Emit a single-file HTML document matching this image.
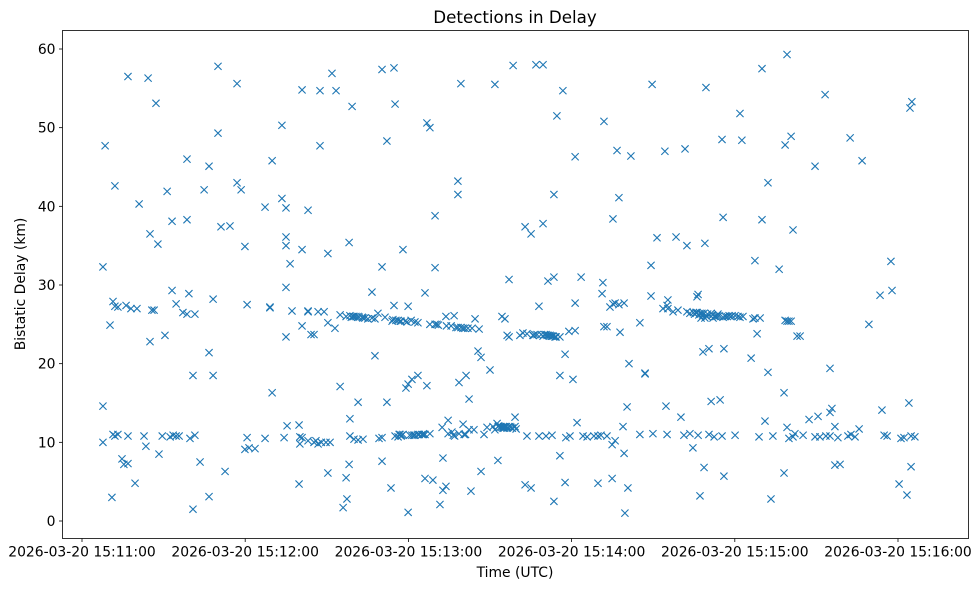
<!DOCTYPE html>
<html><head><meta charset="utf-8"><style>
html,body{margin:0;padding:0;background:#fff;}
svg{display:block;font-family:"DejaVu Sans","Liberation Sans",sans-serif;}
</style></head><body>
<svg id="chart" width="979" height="590" viewBox="0 0 979 590" xmlns="http://www.w3.org/2000/svg">
<rect x="0" y="0" width="979" height="590" fill="#fff"/>
<g id="marks"></g>
<rect x="62.5" y="30.5" width="906" height="508" fill="none" stroke="#000" stroke-width="0.8"/>
<g id="xticks"></g>
<g id="yticks"></g>
<text x="515" y="23" text-anchor="middle" font-size="16.7">Detections in Delay</text>
<text x="515" y="577" text-anchor="middle" font-size="13.9">Time (UTC)</text>
<text transform="translate(25,284) rotate(-90)" text-anchor="middle" font-size="13.9">Bistatic Delay (km)</text>
</svg>
<script>
// seconds after 2026-03-20 15:11:00 UTC
const times = [7.7,7.7,7.7,8.5,10.3,11.0,11.4,11.4,12.1,12.1,12.1,13.2,13.2,14.7,15.4,16.2,16.9,16.9,16.9,18.0,19.5,20.2,21.0,22.8,23.5,24.3,25.0,25.0,25.7,26.5,27.2,27.9,28.3,30.5,31.3,32.4,33.1,33.1,33.5,34.6,34.6,35.7,37.1,38.6,38.6,38.6,39.3,39.7,40.8,40.8,41.5,41.5,43.4,44.9,46.7,46.7,46.7,48.2,48.2,50.0,50.0,51.1,52.6,54.4,57.0,57.0,58.5,59.9,59.9,60.7,60.7,61.4,63.6,67.3,67.3,69.1,69.1,69.9,69.9,73.5,73.5,74.3,75.0,75.0,75.0,75.0,75.0,75.4,76.5,77.2,79.8,79.8,80.1,80.1,80.9,80.9,80.9,80.9,83.1,83.1,83.1,83.1,84.2,85.3,85.3,86.8,86.8,87.5,87.5,89.0,89.7,90.4,90.4,90.4,91.2,91.9,93.0,93.4,94.9,94.9,96.0,97.1,97.1,97.4,98.2,98.2,98.5,98.5,98.5,99.3,100.0,100.0,101.5,101.5,101.5,103.3,103.3,105.1,106.6,106.6,107.7,107.7,108.8,109.2,110.3,110.3,110.3,110.3,111.4,112.1,112.1,113.6,114.3,114.7,114.7,115.1,115.1,115.4,116.2,116.2,117.3,117.3,118.0,118.8,119.1,119.9,119.9,119.9,121.0,121.3,121.3,122.4,122.4,123.5,123.5,123.5,125.0,126.1,126.1,126.1,126.8,126.8,127.9,127.9,127.9,129.0,129.8,129.8,129.8,130.5,131.6,132.4,132.7,132.7,133.8,133.8,134.6,134.6,135.7,136.0,136.8,137.5,138.2,138.2,138.2,138.6,138.6,139.3,139.3,140.1,140.1,140.8,141.2,141.9,142.3,142.3,143.0,143.4,144.1,144.5,145.6,146.0,146.7,146.7,147.8,148.9,150.0,151.1,151.8,151.8,152.6,152.9,153.7,154.4,154.8,155.5,155.5,156.3,156.3,157.0,157.0,157.7,158.5,159.2,159.2,159.6,161.0,162.1,162.9,162.9,163.6,163.6,165.1,165.1,165.8,166.9,167.3,168.0,168.0,168.8,169.5,169.5,169.5,170.6,170.6,171.3,172.1,172.8,172.8,173.5,173.5,173.5,173.9,174.6,175.7,175.7,175.7,176.8,177.6,177.6,177.9,179.0,179.4,180.5,181.3,181.3,181.3,182.0,183.5,184.2,185.7,188.2,189.7,189.7,190.8,191.2,191.5,191.9,191.9,193.0,193.0,194.1,194.9,194.9,195.2,195.2,196.0,196.0,196.7,197.4,197.4,197.8,198.9,199.3,199.3,199.6,200.4,200.7,201.1,201.8,205.1,205.1,207.0,207.0,209.2,209.2,209.6,209.9,211.4,213.6,214.3,214.7,215.1,215.1,215.4,215.4,217.3,218.4,219.1,220.2,221.3,221.7,222.4,222.4,223.5,223.5,224.6,225.7,226.1,226.1,226.5,226.5,227.2,227.2,227.6,228.3,228.7,228.7,229.0,229.0,229.4,229.8,230.5,230.5,231.3,231.3,232.0,232.4,233.1,233.8,234.6,235.3,235.3,235.7,235.7,236.0,236.0,237.9,239.0,240.1,240.1,241.2,241.9,241.9,242.6,243.0,246.0,246.7,247.4,247.4,248.2,248.9,249.3,250.0,250.0,251.1,252.2,252.2,253.3,254.0,256.3,258.1,258.1,258.5,258.5,259.2,259.2,259.2,259.9,259.9,260.7,260.7,261.4,261.4,262.1,262.9,264.0,265.1,267.3,269.5,269.5,270.6,271.3,273.2,273.5,275.0,275.0,275.0,275.7,276.8,276.8,277.9,278.7,281.6,282.4,282.7,284.2,285.7,286.8,289.3,293.4,294.1,294.9,296.0,297.4,297.8,300.4,301.1,302.2,303.3,304.0,304.4,304.8,304.8,305.1,306.2,
 99.0,99.6,100.7,101.9,103.0,104.0,116.6,116.9,117.6,118.0,136.5,137.0,140.5,141.0,153.0,153.2,154.0,154.4,155.0,155.2,156.0,156.6,157.3,158.2,166.0,166.5,170.0,171.0,171.5,172.5,173.2,174.3,224.8,225.2,226.8,227.9,228.2,229.3,230.0,231.8,232.6,233.5,234.2,236.5,237.2,238.5,29.5,86.0,88.0,114.0,117.0,119.5,120.5,122.0,124.0,125.5,131.0,134.0];
// bistatic delay (km), paired with times
const delays = [32.3,14.6,10.0,47.7,24.9,3.0,11.0,27.9,27.3,42.6,10.8,11.0,27.2,7.9,7.2,27.4,56.5,10.8,7.3,27.0,4.8,27.0,40.3,10.8,9.5,56.3,36.5,22.8,26.8,26.8,53.1,35.2,8.5,23.6,41.9,10.7,29.3,38.1,10.9,27.6,10.8,10.8,26.5,38.3,26.3,46.0,28.9,10.5,18.5,1.5,26.3,10.9,7.5,42.1,45.1,21.4,3.1,18.5,28.2,49.3,57.8,37.4,6.3,37.5,55.6,43.0,42.1,34.9,9.1,27.5,10.6,9.3,9.2,39.9,10.5,27.2,27.1,16.3,45.8,41.0,50.3,10.6,35.0,23.4,29.7,36.1,39.8,12.1,32.7,26.7,12.2,4.7,10.7,9.8,34.5,24.8,54.8,10.6,26.6,39.5,26.7,10.2,23.7,23.7,10.0,26.6,9.8,54.7,47.7,26.6,10.0,34.0,6.1,25.2,10.0,56.9,24.5,54.7,17.1,26.2,1.7,26.0,5.5,2.8,7.2,35.4,10.8,26.1,13.0,52.7,26.0,10.4,26.0,15.1,10.3,10.4,25.8,25.7,25.8,29.1,25.7,21.0,26.4,10.5,57.4,32.3,7.6,10.6,25.9,48.3,15.1,4.2,25.6,57.6,27.4,53.0,10.8,25.5,25.5,10.7,25.4,10.8,34.5,25.4,16.9,1.1,27.3,17.4,25.5,10.9,18.0,25.3,10.9,18.5,11.0,25.2,11.0,29.0,11.0,5.4,50.6,17.2,50.0,25.0,11.1,5.2,32.2,38.8,25.0,25.0,2.1,11.9,3.9,8.0,26.0,4.4,12.8,11.1,24.8,11.3,26.1,24.6,43.2,41.5,24.6,17.6,11.1,55.6,24.6,12.3,24.5,24.5,18.5,24.5,15.5,11.6,3.8,24.5,11.6,25.7,21.6,24.4,6.3,20.8,11.0,11.9,19.2,12.0,55.5,11.6,12.4,7.7,11.9,26.0,11.8,25.7,12.0,23.6,11.8,30.7,23.4,11.9,57.9,12.0,13.2,11.7,23.6,23.9,37.4,4.6,23.8,10.8,36.5,4.2,23.6,58.0,23.7,27.3,10.8,23.7,58.0,37.8,23.5,23.7,10.8,30.5,23.6,23.5,10.9,2.5,31.0,41.5,23.4,51.5,8.3,18.5,23.4,54.7,4.9,21.2,10.6,24.1,10.8,18.0,27.7,24.2,46.3,12.5,31.0,10.8,10.7,10.8,4.8,10.8,10.9,28.9,30.3,50.8,24.7,24.7,10.8,27.2,9.7,5.4,27.6,38.4,10.2,27.7,47.1,41.1,27.5,24.0,12.0,27.7,8.6,1.0,14.5,4.2,20.0,46.4,11.0,25.2,18.8,18.7,28.6,32.5,55.5,11.1,36.0,27.0,47.0,14.6,27.4,11.0,28.1,27.0,26.6,36.1,26.8,13.2,10.9,47.3,35.0,26.6,26.4,11.1,9.3,26.5,28.5,26.5,28.8,10.9,3.2,26.4,25.8,21.5,6.8,26.4,25.8,35.3,55.1,26.0,11.0,21.9,15.2,26.4,25.8,10.7,26.0,26.3,15.4,48.5,10.8,38.6,25.9,5.7,21.9,26.1,26.1,26.1,10.9,26.0,51.8,25.9,48.4,26.0,20.7,25.7,33.1,25.8,23.8,10.7,25.8,57.5,38.3,12.7,18.9,43.0,2.8,10.8,32.0,6.1,16.3,25.5,47.8,25.4,59.3,11.9,10.5,25.4,25.4,48.9,37.0,10.7,11.1,23.5,23.5,10.9,12.9,45.1,10.7,13.3,10.7,54.2,10.8,19.4,10.8,13.8,14.3,7.1,12.0,10.6,7.2,10.8,48.7,11.0,10.7,11.7,45.8,25.0,28.7,14.1,10.9,10.8,33.0,29.3,4.7,10.5,10.6,3.3,15.0,52.5,6.9,10.8,53.3,10.7,
 25.9,26.0,26.0,25.9,25.9,25.8,11.0,11.0,10.9,11.0,10.9,10.8,11.0,11.0,12.0,12.1,12.0,11.9,12.0,11.8,12.0,11.9,12.0,11.8,23.6,23.7,23.7,23.6,23.6,23.5,23.5,23.4,26.5,26.3,26.2,26.4,26.2,26.1,26.3,26.2,26.0,26.1,26.1,26.0,26.0,26.0,10.8,10.2,10.0,25.4,25.4,25.3,10.9,10.9,11.0,11.0,24.9,24.8];
const xTickSecs = [0,60,120,180,240,300];
const xTickLabels = ["2026-03-20 15:11:00","2026-03-20 15:12:00","2026-03-20 15:13:00","2026-03-20 15:14:00","2026-03-20 15:15:00","2026-03-20 15:16:00"];
const yTickVals = [0,10,20,30,40,50,60];

const NS="http://www.w3.org/2000/svg";
const PL=62.5, PR=968.5, PT=30.5, PB=538.5;
const xScale = t => 82 + t*(163.2/60);
const yScale = v => 521 - v*(472/60);

const marks=document.getElementById('marks');
const n=Math.min(times.length,delays.length);
for(let i=0;i<n;i++){
  const cx=xScale(times[i]), cy=yScale(delays[i]), r=3.6;
  const p=document.createElementNS(NS,'path');
  p.setAttribute('d',`M${cx-r},${cy-r}L${cx+r},${cy+r}M${cx-r},${cy+r}L${cx+r},${cy-r}`);
  p.setAttribute('stroke','#1f77b4');
  p.setAttribute('stroke-width','1.1');
  p.setAttribute('fill','none');
  
  
  marks.appendChild(p);
}
const xg=document.getElementById('xticks');
xTickSecs.forEach((t,i)=>{
  const x=xScale(t);
  const l=document.createElementNS(NS,'line');
  l.setAttribute('x1',x);l.setAttribute('x2',x);l.setAttribute('y1',PB);l.setAttribute('y2',PB+3.5);
  l.setAttribute('stroke','#000');l.setAttribute('stroke-width','0.8');
  
  
  xg.appendChild(l);
  const tx=document.createElementNS(NS,'text');
  tx.setAttribute('x',x);tx.setAttribute('y',PB+18);tx.setAttribute('text-anchor','middle');tx.setAttribute('font-size','13.9');
  tx.textContent=xTickLabels[i];
  
  
  xg.appendChild(tx);
});
const yg=document.getElementById('yticks');
yTickVals.forEach(v=>{
  const y=yScale(v);
  const l=document.createElementNS(NS,'line');
  l.setAttribute('x1',PL-3.5);l.setAttribute('x2',PL);l.setAttribute('y1',y);l.setAttribute('y2',y);
  l.setAttribute('stroke','#000');l.setAttribute('stroke-width','0.8');
  
  
  yg.appendChild(l);
  const tx=document.createElementNS(NS,'text');
  tx.setAttribute('x',PL-7);tx.setAttribute('y',y+5);tx.setAttribute('text-anchor','end');tx.setAttribute('font-size','13.9');
  tx.textContent=String(v);
  
  
  yg.appendChild(tx);
});
</script>
</body></html>
